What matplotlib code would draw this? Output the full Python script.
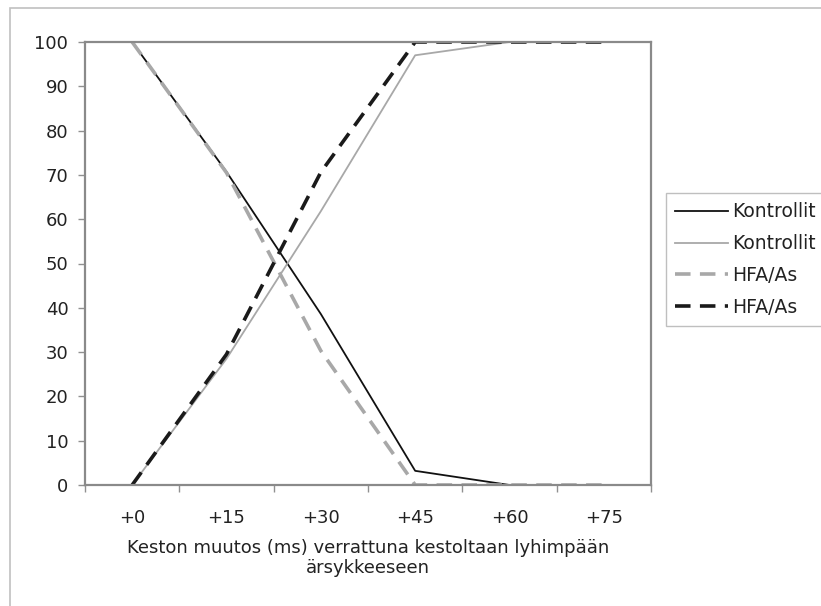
import matplotlib.pyplot as plt
import numpy as np
from matplotlib.patches import Rectangle

# Data
categories = ['+0', '+15', '+30', '+45', '+60', '+75']
kontrollit_a = [100, 70.7, 38.6, 3.2, 0, 0]
kontrollit_b = [0, 28.5, 61.8, 97.0, 100, 100]
hfa_a = [100, 70.5, 30.3, 0, 0, 0]
hfa_b = [0, 29.5, 70.6, 100, 100, 100]

plt.rcParams['font.family'] = 'DejaVu Sans'

fig = plt.figure(figsize=(8.21, 6.06), dpi=100)

# outer chart frame (light gray, runs off the right/bottom edge)
fig.patches.append(Rectangle((10 / 821, -0.05), 1.0, 1 - 8 / 606 + 0.05,
                             transform=fig.transFigure, fill=False,
                             edgecolor='#c0c0c0', linewidth=1.2))

ax = fig.add_axes([85 / 821, 1 - 485 / 606, 566 / 821, 443 / 606])

x = np.arange(len(categories))
dash = (0, (4.3, 2.6))
ax.plot(x, kontrollit_a, color='#111111', lw=1.3, label='Kontrollit')
ax.plot(x, kontrollit_b, color='#a8a8a8', lw=1.3, label='Kontrollit')
ax.plot(x, hfa_a, color='#a8a8a8', lw=2.6, linestyle=dash, label='HFA/As')
ax.plot(x, hfa_b, color='#1a1a1a', lw=2.6, linestyle=dash, label='HFA/As')

ax.set_xlim(-0.5, len(categories) - 0.5)
ax.set_ylim(0, 100)
ax.set_yticks(np.arange(0, 101, 10))

ax.set_xticks(x)
ax.set_xticklabels(categories)
ax.set_xticks(np.arange(-0.5, len(categories)), minor=True)
ax.tick_params(axis='x', which='major', length=0, pad=17, labelsize=13, labelcolor='#222222')
ax.tick_params(axis='x', which='minor', length=5, color='#909090', width=1)
ax.tick_params(axis='y', length=5, color='#909090', width=1, pad=7, labelsize=13, labelcolor='#222222')

for s in ax.spines.values():
    s.set_color('#8a8a8a')
    s.set_linewidth(1.6)

ax.set_xlabel('Keston muutos (ms) verrattuna kestoltaan lyhimpään\närsykkeeseen',
              fontsize=13, color='#222222', labelpad=9, linespacing=1.1)

leg = ax.legend(loc='upper left', bbox_to_anchor=(666 / 821, 1 - 193 / 606),
                bbox_transform=fig.transFigure, fontsize=13.5, frameon=True,
                fancybox=False, handlelength=2.8, handletextpad=0.2,
                labelspacing=0.68, borderpad=0.5, borderaxespad=0)
leg.get_frame().set_edgecolor('#b0b0b0')
leg.get_frame().set_linewidth(1.0)
for t in leg.get_texts():
    t.set_color('#222222')

plt.savefig('out.png', dpi=100)
